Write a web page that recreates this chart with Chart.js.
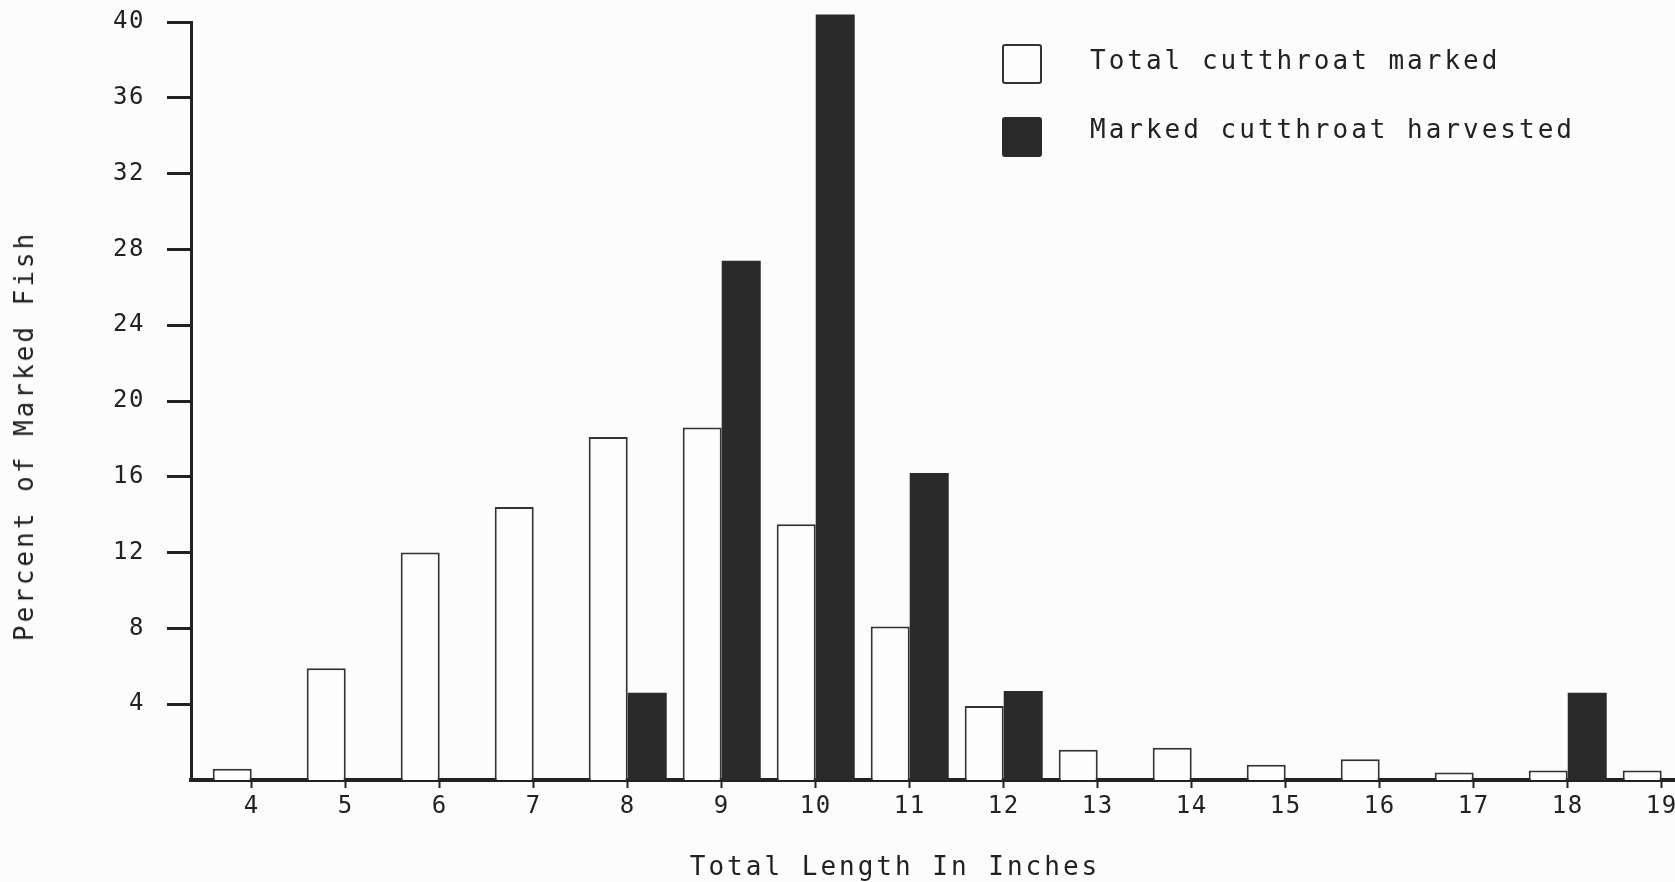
<!DOCTYPE html>
<html>
<head>
<meta charset="utf-8">
<script src="https://cdn.jsdelivr.net/npm/chart.js@4.4.1/dist/chart.umd.min.js"></script>
<style>
  html, body { margin: 0; padding: 0; background: #fcfcfc; overflow: hidden; }
  body { width: 1675px; height: 882px; position: relative; font-family: "DejaVu Sans Mono", monospace; color: #222; }
  #wrap { position: absolute; left: 0; top: 0; width: 1720px; height: 882px; }
  .txt { position: absolute; font-size: 26px; letter-spacing: 3px; white-space: nowrap; line-height: 1; }
  #ytitle { left: 24px; top: 436px; transform: translate(-50%, -50%) rotate(-90deg); }
  #xtitle { left: 895px; top: 866px; transform: translate(-50%, -50%); }
  .lg-box { position: absolute; left: 1002px; width: 40px; height: 40px; box-sizing: border-box; border-radius: 3px; }
</style>
</head>
<body>
<div id="wrap"><canvas id="fishChart"></canvas></div>
<div id="ytitle" class="txt">Percent of Marked Fish</div>
<div id="xtitle" class="txt">Total Length In Inches</div>
<div id="legend"></div>
<script>
// total length classes (inches)
const lengths = [4, 5, 6, 7, 8, 9, 10, 11, 12, 13, 14, 15, 16, 17, 18, 19];
// percent of all marked cutthroat in each length class
const totalMarked = [0.6, 5.9, 12.0, 14.4, 18.1, 18.6, 13.5, 8.1, 3.9, 1.6, 1.7, 0.8, 1.1, 0.4, 0.5, 0.5];
// percent of harvested marked cutthroat in each length class
const harvested = [0, 0, 0, 0, 4.6, 27.4, 40.4, 16.2, 4.7, 0, 0, 0, 0, 0, 4.6, 0];
const yTicks = [4, 8, 12, 16, 20, 24, 28, 32, 36, 40];

const ink = '#222';
const tickFont = { family: 'DejaVu Sans Mono', size: 24 };

// plotter-style wide lettering
const spacing = {
    id: 'spacing',
    beforeLayout(chart) { chart.ctx.letterSpacing = '1.5px'; },
    beforeDraw(chart) { chart.ctx.letterSpacing = '1.5px'; }
};

const ctx = document.getElementById('fishChart');
const fishChart = new Chart(ctx, {
    type: 'bar',
    data: {
        labels: lengths,
        datasets: [{
            label: 'Total cutthroat marked',
            data: totalMarked,
            backgroundColor: '#fdfdfd',
            borderColor: '#333',
            borderWidth: 2,
            clip: false
        }, {
            label: 'Marked cutthroat harvested',
            data: harvested,
            backgroundColor: '#2a2a2a',
            borderWidth: 0,
            clip: false
        }]
    },
    options: {
        responsive: true,
        maintainAspectRatio: false,
        animation: false,
        layout: { padding: { top: 22, left: 0, right: 0, bottom: 0 } },
        datasets: {
            bar: { categoryPercentage: 0.83, barPercentage: 1 }
        },
        plugins: {
            legend: { display: false },
            tooltip: { enabled: false }
        },
        scales: {
            x: {
                type: 'linear',
                offset: false,
                min: 3.354,
                max: 19.62,
                afterBuildTicks: s => { s.ticks = lengths.map(v => ({ value: v })); },
                afterFit: s => { s.height = 102; },
                border: { display: true, color: ink, width: 4 },
                grid: { offset: false, drawOnChartArea: false, drawTicks: true, tickLength: 8, tickWidth: 2, tickColor: ink },
                ticks: { color: ink, font: tickFont, padding: 4, maxRotation: 0, autoSkip: false }
            },
            y: {
                min: 0,
                max: 40,
                afterBuildTicks: s => { s.ticks = yTicks.map(v => ({ value: v })); },
                afterFit: s => { s.width = 191; s.paddingTop = 0; },
                border: { display: true, color: ink, width: 3 },
                grid: { drawOnChartArea: false, drawTicks: true, tickLength: 24, tickWidth: 3, tickColor: ink },
                ticks: { color: ink, font: tickFont, padding: 22 }
            }
        }
    },
    plugins: [spacing]
});

// legend built from the datasets
const legend = document.getElementById('legend');
const boxTops = [44, 117];
const textTops = [47, 116];
fishChart.data.datasets.forEach((ds, i) => {
    const box = document.createElement('div');
    box.className = 'lg-box';
    box.style.top = boxTops[i] + 'px';
    box.style.background = ds.backgroundColor;
    if (ds.borderWidth) box.style.border = '2px solid ' + ds.borderColor;
    legend.appendChild(box);
    const t = document.createElement('div');
    t.className = 'txt';
    t.textContent = ds.label;
    t.style.left = '1090px';
    t.style.top = textTops[i] + 'px';
    legend.appendChild(t);
});
</script>
</body>
</html>
